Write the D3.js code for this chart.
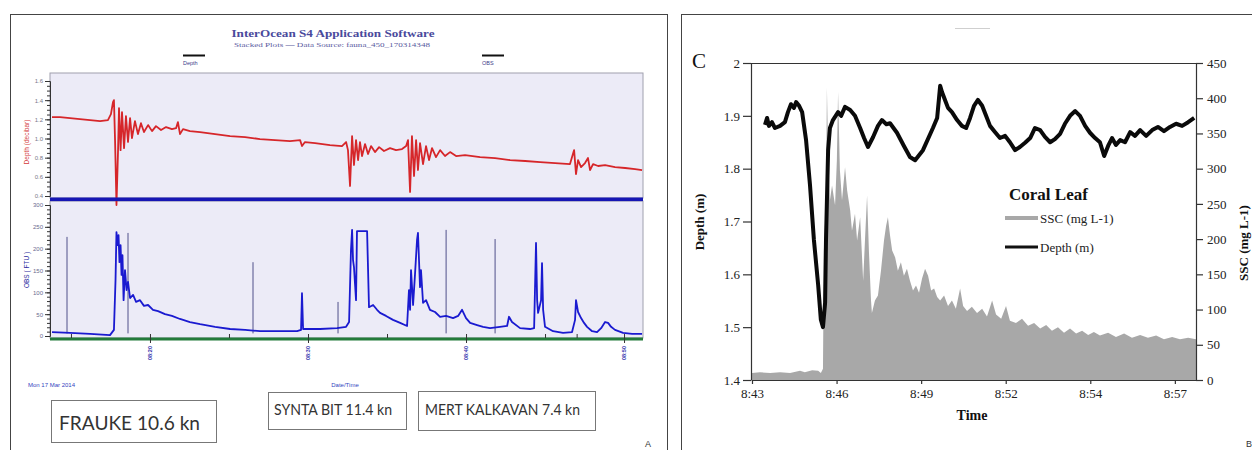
<!DOCTYPE html>
<html><head><meta charset="utf-8">
<script src="https://cdn.jsdelivr.net/npm/d3@7"></script>
<style>body{margin:0;background:#fff;} svg{display:block;}</style>
</head><body>
<svg id="c" width="1252" height="450"></svg>
<script>
// ---------- Panel A data (time in minutes from start) ----------
const depthA = [[0.00,1.223],[0.51,1.223],[1.14,1.213],[1.77,1.202],[2.41,1.192],[3.04,1.181],[3.54,1.192],[3.73,1.254],[3.86,1.379],[3.92,1.400],[3.99,0.983],[4.08,0.306],[4.18,0.879],[4.24,1.317],[4.34,0.879],[4.43,1.275],[4.56,0.900],[4.68,1.233],[4.81,0.963],[4.94,1.213],[5.06,1.004],[5.25,1.181],[5.44,1.046],[5.63,1.160],[5.82,1.067],[6.08,1.140],[6.33,1.077],[6.58,1.129],[6.90,1.088],[7.22,1.119],[7.59,1.098],[7.85,1.108],[7.97,1.171],[8.10,1.046],[8.29,1.098],[8.73,1.077],[9.37,1.067],[10.32,1.046],[11.27,1.025],[12.22,1.015],[13.16,0.994],[14.11,0.983],[15.06,0.973],[15.70,0.983],[15.82,0.921],[16.01,0.963],[16.65,0.952],[17.59,0.931],[18.35,0.921],[18.61,0.963],[18.73,0.879],[18.86,0.504],[18.99,1.025],[19.11,0.723],[19.24,0.983],[19.37,0.775],[19.49,0.963],[19.62,0.817],[19.81,0.942],[20.00,0.838],[20.19,0.921],[20.44,0.858],[20.70,0.910],[21.01,0.869],[21.39,0.900],[21.77,0.879],[22.15,0.890],[22.41,0.921],[22.53,0.983],[22.66,0.442],[22.78,1.025],[22.91,0.608],[23.04,0.983],[23.16,0.671],[23.29,0.952],[23.48,0.733],[23.67,0.921],[23.86,0.775],[24.05,0.900],[24.30,0.806],[24.56,0.879],[24.87,0.817],[25.19,0.858],[25.57,0.817],[26.14,0.827],[27.09,0.806],[28.04,0.796],[28.99,0.775],[29.94,0.765],[30.89,0.754],[31.84,0.744],[32.78,0.733],[33.04,0.879],[33.16,0.629],[33.29,0.775],[33.48,0.702],[33.73,0.744],[33.92,0.796],[34.05,0.671],[34.24,0.733],[34.56,0.713],[35.00,0.723],[35.63,0.702],[36.27,0.692],[36.90,0.681],[37.34,0.671]];

const obsA = [[0.00,9],[1.14,7],[2.41,5],[3.67,2],[3.92,14],[4.02,128],[4.08,238],[4.15,208],[4.21,231],[4.27,169],[4.34,208],[4.40,140],[4.46,185],[4.53,82],[4.62,151],[4.72,105],[4.81,124],[4.94,87],[5.13,94],[5.32,78],[5.57,82],[5.82,69],[6.08,71],[6.39,60],[6.71,57],[7.15,50],[7.59,46],[8.10,39],[8.73,32],[9.37,27],[10.32,21],[11.27,16],[12.22,14],[13.16,11],[14.43,11],[15.51,11],[15.76,14],[15.82,98],[15.89,16],[16.96,16],[18.04,18],[18.61,21],[18.80,32],[18.92,197],[18.99,243],[19.05,174],[19.11,158],[19.18,117],[19.24,82],[19.30,240],[19.94,240],[20.06,66],[20.32,71],[20.57,60],[20.76,53],[21.14,46],[21.58,37],[22.03,30],[22.47,23],[22.59,105],[22.66,60],[22.72,151],[22.85,71],[22.97,140],[23.10,220],[23.16,236],[23.23,169],[23.29,112],[23.35,151],[23.48,76],[23.67,82],[23.92,60],[24.24,55],[24.56,44],[24.94,46],[25.38,41],[25.70,46],[25.95,60],[26.20,41],[26.46,30],[26.90,25],[27.28,21],[27.72,18],[28.35,21],[28.80,23],[28.92,44],[29.11,32],[29.62,18],[30.25,16],[30.51,18],[30.63,213],[30.70,82],[30.76,53],[30.95,82],[31.01,167],[31.08,60],[31.20,21],[31.71,11],[32.34,7],[32.91,9],[33.10,37],[33.16,82],[33.29,55],[33.48,41],[33.67,30],[33.86,21],[34.18,11],[34.49,9],[34.75,18],[35.00,32],[35.19,30],[35.38,21],[35.63,14],[36.14,7],[36.71,5],[37.34,5]];

const obsSpikesA = [[0.95,227],[4.81,236],[12.72,169],[18.10,78],[24.94,243],[28.04,222]];

const depthTicksA = [0.4,0.6,0.8,1.0,1.2,1.4,1.6];
const obsTicksA = [0,50,100,150,200,250,300];
const timeTicksA = [6.2,16.2,26.2,36.2];
const timeTickLabelsA = ["08:20","08:30","08:40","08:50"];
const boxLabelsA = ["FRAUKE 10.6 kn","SYNTA BIT 11.4 kn","MERT KALKAVAN 7.4 kn"];

// ---------- Panel C data (time in minutes after 8:43) ----------
const depthC = [[0.43,1.883],[0.50,1.896],[0.56,1.881],[0.66,1.888],[0.76,1.877],[0.93,1.881],[1.09,1.888],[1.19,1.907],[1.29,1.922],[1.39,1.915],[1.46,1.926],[1.56,1.919],[1.66,1.907],[1.79,1.854],[1.92,1.769],[2.05,1.665],[2.19,1.580],[2.28,1.514],[2.35,1.500],[2.42,1.546],[2.45,1.665],[2.52,1.835],[2.58,1.877],[2.68,1.892],[2.85,1.907],[2.95,1.900],[3.08,1.917],[3.25,1.911],[3.41,1.900],[3.58,1.877],[3.71,1.858],[3.84,1.841],[4.01,1.860],[4.17,1.881],[4.30,1.892],[4.45,1.884],[4.57,1.886],[4.80,1.868],[5.03,1.843],[5.23,1.822],[5.40,1.816],[5.66,1.835],[5.99,1.877],[6.13,1.896],[6.23,1.957],[6.29,1.945],[6.39,1.930],[6.49,1.915],[6.62,1.907],[6.79,1.892],[6.95,1.881],[7.09,1.877],[7.22,1.896],[7.35,1.919],[7.48,1.930],[7.62,1.919],[7.75,1.900],[7.88,1.881],[8.05,1.869],[8.21,1.858],[8.38,1.862],[8.54,1.850],[8.71,1.835],[8.87,1.841],[9.04,1.849],[9.21,1.858],[9.37,1.877],[9.54,1.873],[9.70,1.860],[9.87,1.850],[10.03,1.856],[10.20,1.866],[10.36,1.885],[10.53,1.900],[10.70,1.909],[10.86,1.900],[11.03,1.881],[11.19,1.868],[11.36,1.858],[11.52,1.850],[11.66,1.824],[11.79,1.843],[11.92,1.858],[12.05,1.845],[12.19,1.854],[12.35,1.850],[12.52,1.869],[12.68,1.862],[12.85,1.873],[13.05,1.862],[13.25,1.873],[13.44,1.879],[13.64,1.871],[13.84,1.879],[14.04,1.885],[14.24,1.881],[14.44,1.888],[14.64,1.896]];

const sscC = [[0.00,10],[0.26,11],[0.60,10],[0.93,11],[1.26,10],[1.59,13],[1.75,11],[1.99,14],[2.19,13],[2.28,10],[2.35,16],[2.38,184],[2.45,255],[2.48,415],[2.52,326],[2.58,255],[2.65,276],[2.75,248],[2.81,312],[2.85,409],[2.91,298],[2.98,255],[3.08,302],[3.15,269],[3.25,241],[3.31,212],[3.41,236],[3.48,198],[3.58,231],[3.64,177],[3.68,141],[3.74,198],[3.81,262],[3.87,184],[3.94,113],[3.97,95],[4.07,113],[4.17,120],[4.27,155],[4.37,198],[4.44,219],[4.50,231],[4.57,205],[4.64,184],[4.74,174],[4.83,155],[4.93,167],[5.03,148],[5.13,158],[5.23,141],[5.33,127],[5.43,134],[5.53,124],[5.63,144],[5.73,158],[5.83,148],[5.93,127],[6.03,130],[6.13,118],[6.23,113],[6.36,120],[6.49,105],[6.62,113],[6.75,101],[6.89,130],[6.99,105],[7.12,98],[7.28,104],[7.45,95],[7.62,101],[7.78,90],[7.95,113],[8.08,93],[8.25,87],[8.41,105],[8.54,84],[8.74,81],[8.94,87],[9.14,77],[9.34,81],[9.54,73],[9.74,78],[9.93,70],[10.13,75],[10.33,67],[10.53,73],[10.73,66],[10.93,70],[11.13,64],[11.32,68],[11.52,63],[11.79,67],[12.05,61],[12.32,66],[12.58,60],[12.85,64],[13.11,60],[13.38,63],[13.64,58],[13.91,61],[14.17,58],[14.44,60],[14.70,58]];

const depthTicksC = [1.4,1.5,1.6,1.7,1.8,1.9,2.0];
const sscTicksC = [0,50,100,150,200,250,300,350,400,450];
const timeTicksC = [0,2.8,5.6,8.4,11.2,14.0];
const timeTickLabelsC = ["8:43","8:46","8:49","8:52","8:54","8:57"];

// ---------- Drawing ----------
const svg = d3.select("#c");
const serif = "'Liberation Serif','DejaVu Serif',serif";
const sans = "'Liberation Sans',Arial,sans-serif";

// panel frames
svg.append("rect").attr("x",10.5).attr("y",14.5).attr("width",657).attr("height",450)
  .attr("fill","none").attr("stroke","#444").attr("stroke-width",1);
svg.append("rect").attr("x",681.5).attr("y",14.5).attr("width",600).attr("height",450)
  .attr("fill","none").attr("stroke","#444").attr("stroke-width",1);

// ===== Panel A =====
const A = svg.append("g");
const xA = d3.scaleLinear().domain([0,37.4]).range([52,643]);
const yDA = d3.scaleLinear().domain([0.4,1.6]).range([196,81]);
const yOA = d3.scaleLinear().domain([0,300]).range([336,205]);

A.append("text").attr("x",333).attr("y",37).attr("text-anchor","middle")
  .attr("font-family",serif).attr("font-weight","bold").attr("font-size",11)
  .attr("fill","#4a4a9c").attr("textLength",203).attr("lengthAdjust","spacingAndGlyphs")
  .text("InterOcean S4 Application Software");
A.append("text").attr("x",332).attr("y",47).attr("text-anchor","middle")
  .attr("font-family",serif).attr("font-size",7).attr("fill","#5a5aa0")
  .attr("textLength",196).attr("lengthAdjust","spacingAndGlyphs")
  .text("Stacked Plots  —  Data Source: fauna_450_170314348");
// legend
[["Depth",183],["OBS",482]].forEach(([t,x])=>{
  A.append("line").attr("x1",x).attr("x2",x+22).attr("y1",55.5).attr("y2",55.5)
    .attr("stroke","#111").attr("stroke-width",2);
  A.append("text").attr("x",x).attr("y",65).attr("font-family",sans).attr("font-size",5.5)
    .attr("fill","#3b3b8a").text(t);
});

// backgrounds
A.append("rect").attr("x",50).attr("y",73).attr("width",593).attr("height",125).attr("fill","#ecebf7")
  .attr("stroke","#a0a0ae").attr("stroke-width",1);
A.append("rect").attr("x",50).attr("y",201).attr("width",593).attr("height",137).attr("fill","#ecebf7")
  .attr("stroke","#a0a0ae").attr("stroke-width",1);

// depth line
A.append("path").datum(depthA)
  .attr("d",d3.line().x(d=>xA(d[0])).y(d=>yDA(d[1])))
  .attr("fill","none").attr("stroke","#d6262a").attr("stroke-width",1.8).attr("stroke-linejoin","round");

// blue separator
A.append("rect").attr("x",50).attr("y",197.5).attr("width",593).attr("height",3.6).attr("fill","#1616b4");

// obs spikes
A.selectAll(".sp").data(obsSpikesA).enter().append("line")
  .attr("x1",d=>xA(d[0])).attr("x2",d=>xA(d[0]))
  .attr("y1",yOA(6)).attr("y2",d=>yOA(d[1]))
  .attr("stroke","#50508a").attr("stroke-width",1);
// obs line
A.append("path").datum(obsA)
  .attr("d",d3.line().x(d=>xA(d[0])).y(d=>yOA(d[1])))
  .attr("fill","none").attr("stroke","#1a1ad0").attr("stroke-width",1.8).attr("stroke-linejoin","round");

// green baseline
A.append("rect").attr("x",50).attr("y",337.5).attr("width",593).attr("height",3).attr("fill","#237a3a");

// left axes
function leftAxisA(scale, ticks, minorStep, color, fmt){
  const g = A.append("g").attr("transform","translate(50,0)");
  const dom = scale.domain();
  const minors = d3.range(dom[0], dom[1]+1e-9, minorStep);
  g.call(d3.axisLeft(scale).tickValues(minors).tickSize(3).tickFormat(""));
  g.call(gg=>gg.select(".domain").remove());
  const g2 = A.append("g").attr("transform","translate(50,0)");
  g2.call(d3.axisLeft(scale).tickValues(ticks).tickSize(5).tickPadding(2).tickFormat(fmt));
  g2.select(".domain").attr("stroke","#333");
  g.selectAll("line").attr("stroke","#333");
  g2.selectAll("line").attr("stroke","#333");
  g2.selectAll("text").attr("font-family",sans).attr("font-size",6).attr("fill",color);
}
leftAxisA(yDA, depthTicksA, 0.05, "#7a7a8a", d3.format(".1f"));
leftAxisA(yOA, obsTicksA, 10, "#6a6a90", d3.format("d"));

A.append("text").attr("transform","translate(29,142) rotate(-90)").attr("text-anchor","middle")
  .attr("font-family",sans).attr("font-size",6.5).attr("fill","#d43a3a").text("Depth  (decibar)");
A.append("text").attr("transform","translate(29,270) rotate(-90)").attr("text-anchor","middle")
  .attr("font-family",sans).attr("font-size",6.5).attr("fill","#2a2aa0").text("OBS   ( FTU )");

// bottom x axis
const minorT = [1.2,11.2,21.2,31.2,33.2];
A.append("g").attr("transform","translate(0,338)")
  .call(d3.axisBottom(xA).tickValues(minorT).tickSize(-4).tickFormat(""))
  .call(g=>{g.select(".domain").remove(); g.selectAll("line").attr("stroke","#333");});
const xg = A.append("g").attr("transform","translate(0,338)")
  .call(d3.axisBottom(xA).tickValues(timeTicksA).tickSize(5).tickFormat((d,i)=>timeTickLabelsA[i]));
xg.select(".domain").remove();
xg.selectAll("line").attr("stroke","#333").attr("y1",-4);
xg.selectAll("text").attr("font-family",sans).attr("font-size",5.5).attr("font-weight","bold")
  .attr("fill","#3a3ab0").attr("transform","rotate(-90)").attr("text-anchor","end")
  .attr("x",-8).attr("y",0).attr("dy","0.35em");

A.append("text").attr("x",28).attr("y",387).attr("font-family",sans).attr("font-size",6)
  .attr("fill","#3344c0").text("Mon 17  Mar 2014");
A.append("text").attr("x",345).attr("y",387).attr("text-anchor","middle").attr("font-family",sans)
  .attr("font-size",6).attr("fill","#3344c0").text("Date/Time");

// annotation boxes
const boxes = [{x:51,y:400,w:165,h:42,fs:19,tx:59,ty:430,tl:141},
               {x:268,y:392,w:138,h:37,fs:15,tx:274,ty:415,tl:118},
               {x:418,y:391,w:177,h:39,fs:15,tx:425,ty:415,tl:155}];
boxes.forEach((b,i)=>{
  A.append("rect").attr("x",b.x+0.5).attr("y",b.y+0.5).attr("width",b.w).attr("height",b.h)
    .attr("fill","#fff").attr("stroke","#777").attr("stroke-width",1);
  A.append("text").attr("x",b.tx).attr("y",b.ty).attr("font-family","Lato,'Open Sans',sans-serif")
    .attr("font-size",b.fs).attr("fill","#333").attr("textLength",b.tl).attr("lengthAdjust","spacingAndGlyphs")
    .text(boxLabelsA[i]);
});
A.append("text").attr("x",645).attr("y",447).attr("font-family",sans).attr("font-size",9)
  .attr("fill","#333").text("A");

// ===== Panel C =====
const C = svg.append("g");
const xC = d3.scaleLinear().domain([0,14.7]).range([752,1196]);
const yDC = d3.scaleLinear().domain([1.4,2.0]).range([380,63]);
const ySC = d3.scaleLinear().domain([0,450]).range([380,63]);

C.append("line").attr("x1",955).attr("x2",990).attr("y1",28.5).attr("y2",28.5)
  .attr("stroke","#cfcfcf").attr("stroke-width",1);
C.append("text").attr("x",692).attr("y",68).attr("font-family",serif).attr("font-size",21)
  .attr("fill","#111").text("C");

C.append("path").datum(sscC)
  .attr("d",d3.area().x(d=>xC(d[0])).y0(ySC(0)).y1(d=>ySC(d[1])))
  .attr("fill","#a8a8a8");
C.append("path").datum(depthC)
  .attr("d",d3.line().x(d=>xC(d[0])).y(d=>yDC(d[1])))
  .attr("fill","none").attr("stroke","#0a0a0a").attr("stroke-width",4).attr("stroke-linejoin","round");

// top frame line
C.append("line").attr("x1",751).attr("x2",1196).attr("y1",63.5).attr("y2",63.5)
  .attr("stroke","#333").attr("stroke-width",1);

function styleAxis(g){
  g.select(".domain").attr("stroke","#333").attr("stroke-width",1.2);
  g.selectAll("line").attr("stroke","#333").attr("stroke-width",1.2);
  g.selectAll("text").attr("font-family",serif).attr("font-size",13).attr("fill","#222");
}
C.append("g").attr("transform","translate(751,0)")
  .call(d3.axisLeft(yDC).tickValues(depthTicksC).tickSize(8).tickPadding(3)
    .tickFormat(d=> d===2 ? "2" : d3.format(".1f")(d)).tickSizeOuter(0))
  .call(styleAxis);
C.append("g").attr("transform","translate(1196,0)")
  .call(d3.axisRight(ySC).tickValues(sscTicksC).tickSize(7).tickPadding(4).tickSizeOuter(0))
  .call(styleAxis);
C.append("g").attr("transform","translate(0,380)")
  .call(d3.axisBottom(xC).tickValues(timeTicksC).tickSize(4).tickPadding(5)
    .tickFormat((d,i)=>timeTickLabelsC[i]).tickSizeOuter(0))
  .call(styleAxis);

C.append("text").attr("x",972).attr("y",420).attr("text-anchor","middle").attr("font-family",serif)
  .attr("font-weight","bold").attr("font-size",14).attr("fill","#111").text("Time");
C.append("text").attr("transform","translate(704,222) rotate(-90)").attr("text-anchor","middle")
  .attr("font-family",serif).attr("font-weight","bold").attr("font-size",13).attr("fill","#111").text("Depth (m)");
C.append("text").attr("transform","translate(1248,243) rotate(-90)").attr("text-anchor","middle")
  .attr("font-family",serif).attr("font-weight","bold").attr("font-size",13).attr("fill","#111").text("SSC (mg L-1)");

// legend
C.append("text").attr("x",1009).attr("y",200).attr("font-family",serif).attr("font-weight","bold")
  .attr("font-size",17).attr("fill","#111").text("Coral Leaf");
C.append("line").attr("x1",1005).attr("x2",1038).attr("y1",218).attr("y2",218)
  .attr("stroke","#a8a8a8").attr("stroke-width",4);
C.append("text").attr("x",1040).attr("y",223).attr("font-family",serif).attr("font-size",13)
  .attr("fill","#222").text("SSC (mg L-1)");
C.append("line").attr("x1",1005).attr("x2",1038).attr("y1",247).attr("y2",247)
  .attr("stroke","#111").attr("stroke-width",3);
C.append("text").attr("x",1040).attr("y",252).attr("font-family",serif).attr("font-size",13)
  .attr("fill","#222").text("Depth (m)");
C.append("text").attr("x",1246).attr("y",447).attr("font-family",sans).attr("font-size",9)
  .attr("fill","#333").text("B");
</script>
</body></html>
